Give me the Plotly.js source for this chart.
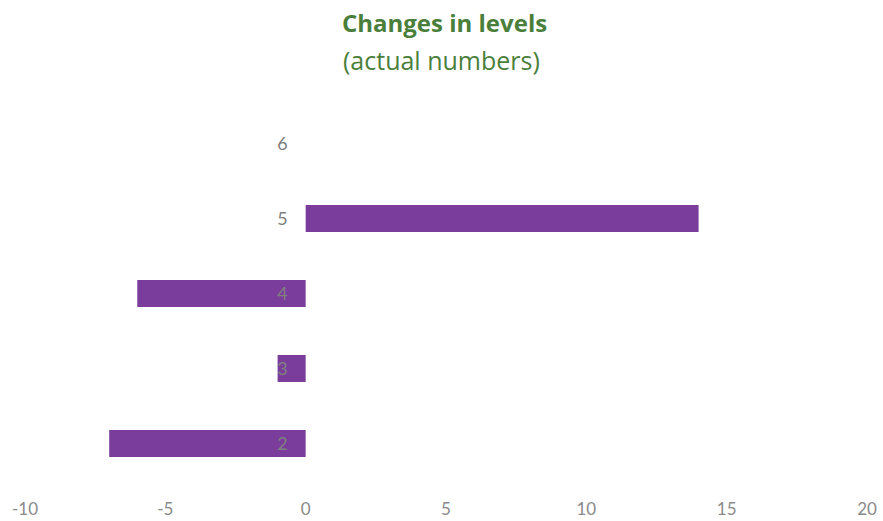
<!DOCTYPE html>
<html>
<head>
<meta charset="utf-8">
<script src="https://cdn.plot.ly/plotly-3.0.1.min.js"></script>
<style>html,body{margin:0;padding:0;background:#fff;}#chart{width:883px;height:521px;}</style>
</head>
<body>
<div id="chart"></div>
<script>
const categories = ["2", "3", "4", "5", "6"];
const values = [-7, -1, -6, 14, null];
const xTicks = [-10, -5, 0, 5, 10, 15, 20];

const W = 883, H = 521;
const green = "#4a7f3b";
const purple = "#7a3d9c";

const trace = {
  type: "bar",
  orientation: "h",
  x: values,
  y: categories.map(Number),
  width: 0.36,
  marker: {color: purple},
  hoverinfo: "x+y"
};

const layout = {
  width: W, height: H,
  margin: {l: 25, r: 16, t: 106, b: 40},
  paper_bgcolor: "#fff",
  plot_bgcolor: "#fff",
  showlegend: false,
  font: {family: "Lato, 'Open Sans', sans-serif"},
  title: {
    text: "<b>Changes in levels</b>",
    font: {family: "'Open Sans', sans-serif", size: 24, color: green},
    x: 440 / W, xanchor: "center", xref: "paper",
    y: 1 - 24 / H, yanchor: "middle", yref: "container"
  },
  annotations: [{
    text: "(actual numbers)",
    xref: "paper", yref: "paper",
    x: (441 - 25) / (W - 25 - 16), xanchor: "center",
    y: 1 + (106 - 60) / (H - 106 - 40), yanchor: "middle",
    showarrow: false,
    font: {family: "'Open Sans', sans-serif", size: 25, color: green}
  }],
  xaxis: {
    range: [-10, 20],
    tickvals: xTicks,
    ticktext: xTicks.map(String),
    showgrid: false, zeroline: false, showline: false,
    ticks: "",
    ticklabelstandoff: 16,
    tickfont: {size: 17, color: "#8a8a8a", family: "Lato, 'Open Sans', sans-serif"},
    fixedrange: true
  },
  yaxis: {
    range: [1.5, 6.5],
    tickvals: categories.map(Number),
    ticktext: categories,
    anchor: "free",
    position: 1 / 3,
    showgrid: false, zeroline: false, showline: false,
    ticks: "",
    ticklabelstandoff: 18,
    tickfont: {size: 18, color: "#808080", family: "Lato, 'Open Sans', sans-serif"},
    fixedrange: true
  },
  bargap: 0.64
};

Plotly.newPlot("chart", [trace], layout, {displayModeBar: false, staticPlot: true});
</script>
</body>
</html>
